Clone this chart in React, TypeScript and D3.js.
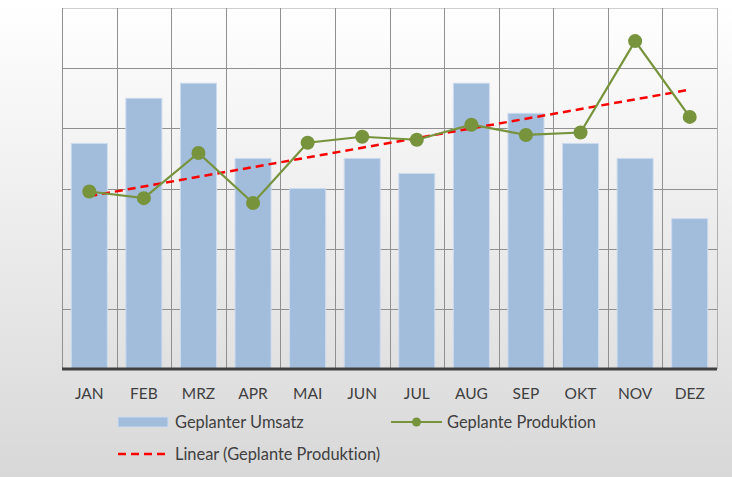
import { useEffect, useRef } from "react";
import * as d3 from "d3";

const months = ["JAN", "FEB", "MRZ", "APR", "MAI", "JUN", "JUL", "AUG", "SEP", "OKT", "NOV", "DEZ"];
const umsatz = [3.75, 4.5, 4.75, 3.5, 3.0, 3.5, 3.25, 4.75, 4.25, 3.75, 3.5, 2.5];
const produktion = [2.95, 2.84, 3.59, 2.76, 3.76, 3.86, 3.81, 4.06, 3.89, 3.93, 5.45, 4.19];
const gridTicks = [0, 1, 2, 3, 4, 5, 6];

const W = 732;
const H = 477;
const FONT = "Lato, 'Open Sans', sans-serif";

const App = () => {
  const ref = useRef<SVGSVGElement | null>(null);

  useEffect(() => {
    document.body.style.margin = "0";
    const svg = d3.select(ref.current);
    svg.selectAll("*").remove();

    const left = 62, right = 717, top = 8, bottom = 369;

    const defs = svg.append("defs");
    const bg = defs.append("linearGradient").attr("id", "bg").attr("x1", 0).attr("y1", 0).attr("x2", 0).attr("y2", 1);
    bg.append("stop").attr("offset", "0%").attr("stop-color", "#ffffff");
    bg.append("stop").attr("offset", "100%").attr("stop-color", "#d8d8d8");

    svg.append("rect").attr("width", W).attr("height", H).attr("fill", "url(#bg)");

    const x = d3.scaleBand().domain(months).range([left, right]).paddingInner(0).paddingOuter(0);
    const y = d3.scaleLinear().domain([0, 6]).range([bottom, top]);

    // grid
    const g = svg.append("g");
    g.selectAll(".hgrid")
      .data(gridTicks.slice(1))
      .enter()
      .append("line")
      .attr("x1", left)
      .attr("x2", right)
      .attr("y1", (d) => Math.round(y(d)) + 0.5)
      .attr("y2", (d) => Math.round(y(d)) + 0.5)
      .attr("stroke", (d) => (d === 6 ? "#d0d0d0" : "#909090"))
      .attr("stroke-width", 1);
    const bounds = months.map((m) => x(m) as number).concat([right]);
    g.selectAll(".vgrid")
      .data(bounds)
      .enter()
      .append("line")
      .attr("x1", (d) => Math.round(d) + 0.5)
      .attr("x2", (d) => Math.round(d) + 0.5)
      .attr("y1", top)
      .attr("y2", bottom)
      .attr("stroke", (d, i) => (i === bounds.length - 1 ? "#b0b0b0" : "#909090"))
      .attr("stroke-width", 1);

    // bars
    const bw = x.bandwidth() * 0.66;
    g.selectAll(".bar")
      .data(umsatz)
      .enter()
      .append("rect")
      .attr("x", (d, i) => (x(months[i]) as number) + (x.bandwidth() - bw) / 2)
      .attr("y", (d) => y(d))
      .attr("width", bw)
      .attr("height", (d) => bottom - y(d))
      .attr("fill", "#a2bcdb")
      .attr("stroke", "#cddcee")
      .attr("stroke-width", 1);

    // baseline
    g.append("line")
      .attr("x1", left)
      .attr("x2", right)
      .attr("y1", bottom)
      .attr("y2", bottom)
      .attr("stroke", "#404040")
      .attr("stroke-width", 3);

    // x labels
    g.selectAll(".xl")
      .data(months)
      .enter()
      .append("text")
      .attr("x", (d) => (x(d) as number) + x.bandwidth() / 2)
      .attr("y", 399)
      .attr("text-anchor", "middle")
      .attr("font-family", FONT)
      .attr("font-size", 15.5)
      .attr("fill", "#404040")
      .text((d) => d);

    const cx = (i: number) => (x(months[i]) as number) + x.bandwidth() / 2;

    // trendline (linear regression)
    const n = produktion.length;
    const xs = produktion.map((_, i) => i + 1);
    const mx = d3.mean(xs) as number;
    const my = d3.mean(produktion) as number;
    const slope =
      (d3.sum(xs, (v, i) => (v - mx) * (produktion[i] - my)) as number) /
      (d3.sum(xs, (v) => (v - mx) * (v - mx)) as number);
    const icpt = my - slope * mx;
    g.append("line")
      .attr("x1", cx(0))
      .attr("y1", y(icpt + slope * 1))
      .attr("x2", cx(n - 1))
      .attr("y2", y(icpt + slope * n))
      .attr("stroke", "#ff0000")
      .attr("stroke-width", 2.5)
      .attr("stroke-dasharray", "8,5");

    // production line
    const line = d3
      .line<number>()
      .x((d, i) => cx(i))
      .y((d) => y(d));
    g.append("path")
      .datum(produktion)
      .attr("d", line)
      .attr("fill", "none")
      .attr("stroke", "#77933c")
      .attr("stroke-width", 2.2);
    g.selectAll(".pt")
      .data(produktion)
      .enter()
      .append("circle")
      .attr("cx", (d, i) => cx(i))
      .attr("cy", (d) => y(d))
      .attr("r", 7)
      .attr("fill", "#77933c");

    // legend
    const lg = svg
      .append("g")
      .attr("font-family", FONT)
      .attr("font-size", 16.4)
      .attr("fill", "#404040")
      .style("font-variant-ligatures", "none");
    lg.append("rect").attr("x", 118).attr("y", 417).attr("width", 50).attr("height", 10)
      .attr("fill", "#a2bcdb").attr("stroke", "#cddcee");
    lg.append("text").attr("x", 175).attr("y", 428).text("Geplanter Umsatz");
    lg.append("line").attr("x1", 391).attr("x2", 442).attr("y1", 422).attr("y2", 422)
      .attr("stroke", "#77933c").attr("stroke-width", 2.2);
    lg.append("circle").attr("cx", 416.5).attr("cy", 422).attr("r", 4.5).attr("fill", "#77933c");
    lg.append("text").attr("x", 447).attr("y", 428).text("Geplante Produktion");
    lg.append("line").attr("x1", 118).attr("x2", 168).attr("y1", 454).attr("y2", 454)
      .attr("stroke", "#ff0000").attr("stroke-width", 2.5).attr("stroke-dasharray", "8,5");
    lg.append("text").attr("x", 175).attr("y", 460).text("Linear (Geplante Produktion)");
  }, []);

  return <svg ref={ref} width={W} height={H} style={{ display: "block" }}></svg>;
};

export default App;
